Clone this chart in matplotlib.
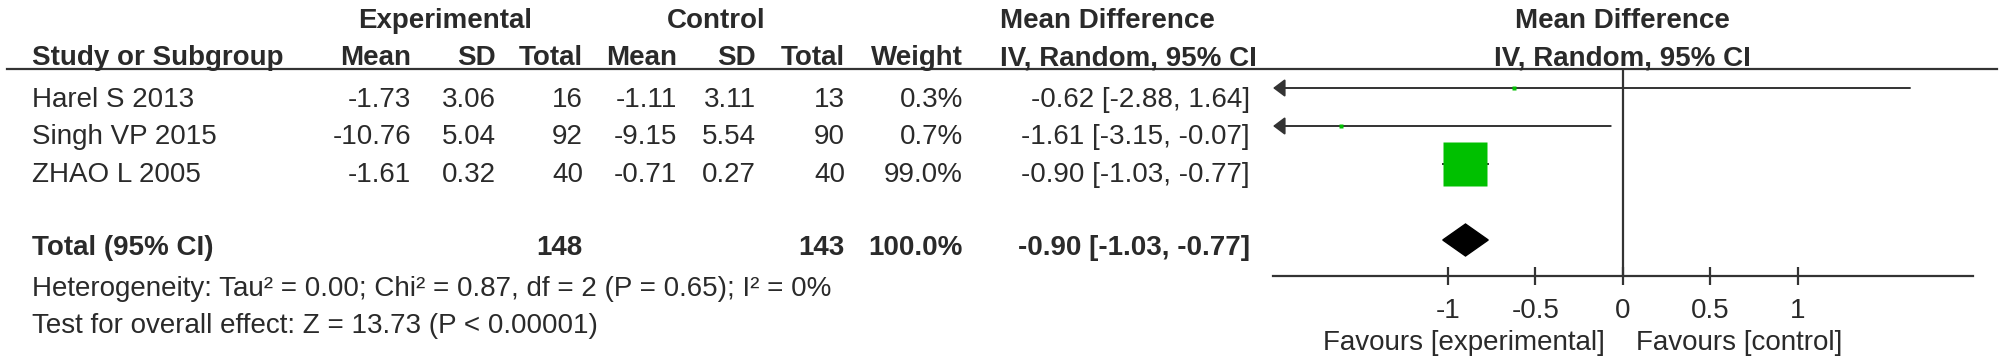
import numpy as np
import matplotlib
matplotlib.use("Agg")
import matplotlib.pyplot as plt
from matplotlib.patches import Polygon

plt.rcParams['font.family'] = ['Liberation Sans', 'DejaVu Sans']

# data
studies = ['Harel S 2013', 'Singh VP 2015', 'ZHAO L 2005']
exp_mean = ['-1.73', '-10.76', '-1.61']
exp_sd = ['3.06', '5.04', '0.32']
exp_n = [16, 92, 40]
ctl_mean = ['-1.11', '-9.15', '-0.71']
ctl_sd = ['3.11', '5.54', '0.27']
ctl_n = [13, 90, 40]
weight = [0.3, 0.7, 99.0]
md = [-0.62, -1.61, -0.90]
ci_lo = [-2.88, -3.15, -1.03]
ci_hi = [1.64, -0.07, -0.77]
tot_md, tot_lo, tot_hi = -0.90, -1.03, -0.77
tot_exp, tot_ctl = 148, 143
tick_vals = [-1, -0.5, 0, 0.5, 1]
tick_labels = ['-1', '-0.5', '0', '0.5', '1']

W, H = 2008, 363
txt = '#2a2a2a'
ln = '#333333'
green = '#00c000'
fs = 20

fig = plt.figure(figsize=(W / 100, H / 100), dpi=100)

# background axes in pixel units for the table part
bg = fig.add_axes([0, 0, 1, 1])
bg.set_xlim(0, W)
bg.set_ylim(H, 0)
bg.axis('off')

def t(x, y, s, ha='left', bold=False):
    bg.text(x, y, s, ha=ha, va='baseline', fontsize=fs, color=txt,
            fontweight='bold' if bold else 'normal')

# headers
t(445, 28, 'Experimental', 'center', True)
t(716, 28, 'Control', 'center', True)
t(1000, 28, 'Mean Difference', 'left', True)
t(1622, 28, 'Mean Difference', 'center', True)
hdr_y = 65
t(32, hdr_y, 'Study or Subgroup', 'left', True)
t(411, hdr_y, 'Mean', 'right', True)
t(496, hdr_y, 'SD', 'right', True)
t(583, hdr_y, 'Total', 'right', True)
t(677, hdr_y, 'Mean', 'right', True)
t(756, hdr_y, 'SD', 'right', True)
t(845, hdr_y, 'Total', 'right', True)
t(963, hdr_y, 'Weight', 'right', True)
t(1000, hdr_y, 'IV, Random, 95% CI', 'left', True)
t(1622, hdr_y, 'IV, Random, 95% CI', 'center', True)
bg.plot([7, 1997], [69, 69], color=ln, lw=1.6)

row_base = [107, 144.5, 182]
for i in range(len(studies)):
    y = row_base[i]
    t(32, y, studies[i])
    t(411, y, exp_mean[i], 'right')
    t(496, y, exp_sd[i], 'right')
    t(583, y, str(exp_n[i]), 'right')
    t(677, y, ctl_mean[i], 'right')
    t(756, y, ctl_sd[i], 'right')
    t(845, y, str(ctl_n[i]), 'right')
    t(963, y, f'{weight[i]:.1f}%', 'right')
    t(1250, y, f'{md[i]:.2f} [{ci_lo[i]:.2f}, {ci_hi[i]:.2f}]', 'right')

t(32, 255, 'Total (95% CI)', 'left', True)
t(583, 255, str(tot_exp), 'right', True)
t(845, 255, str(tot_ctl), 'right', True)
t(963, 255, f'{sum(weight):.1f}%', 'right', True)
t(1250, 255, f'{tot_md:.2f} [{tot_lo:.2f}, {tot_hi:.2f}]', 'right', True)
t(32, 296, 'Heterogeneity: Tau\u00b2 = 0.00; Chi\u00b2 = 0.87, df = 2 (P = 0.65); I\u00b2 = 0%')
t(32, 333, 'Test for overall effect: Z = 13.73 (P < 0.00001)')
t(1605, 350, 'Favours [experimental]', 'right')
t(1636, 350, 'Favours [control]', 'left')

# forest plot axes: x from -2 to 2, rows in units of 38 px
x0, x1 = 1273, 1973
ytop, ybot = 69, 276
ax = fig.add_axes([x0 / W, 1 - ybot / H, (x1 - x0) / W, (ybot - ytop) / H])
ax.set_xlim(-2, 2)
ax.set_ylim((ybot - 88) / 38, (ytop - 88) / 38)
ax.patch.set_alpha(0)
for s in ['top', 'left', 'right']:
    ax.spines[s].set_visible(False)
ax.spines['bottom'].set_color(ln)
ax.spines['bottom'].set_linewidth(1.6)
ax.set_yticks([])
ax.set_xticks(tick_vals)
ax.set_xticklabels(tick_labels)
ax.tick_params(axis='x', direction='inout', length=13, width=1.6, color=ln,
               labelsize=fs, labelcolor=txt, pad=9)
ax.axvline(0, color=ln, lw=1.6)

rows = [0, 1, 2]
for i, r in enumerate(rows):
    lo = max(ci_lo[i], -2)
    hi = min(ci_hi[i], 2)
    if ci_lo[i] < -2:
        ax.annotate('', xy=(lo, r), xytext=(hi, r),
                    arrowprops=dict(arrowstyle='-|>,head_length=0.36,head_width=0.27',
                                    mutation_scale=20, color=ln, lw=1.4,
                                    shrinkA=0, shrinkB=0))
    else:
        ax.plot([lo, hi], [r, r], color=ln, lw=1.4)
    size = max(31 * np.sqrt(weight[i] / max(weight)), 3)
    ax.plot(md[i], r, marker='s', ms=size, color=green, mec='none', zorder=3)

ry = 4
hh = 16 / 38
ax.add_patch(Polygon([[tot_lo, ry], [tot_md, ry - hh], [tot_hi, ry], [tot_md, ry + hh]],
                     closed=True, color='black'))

fig.savefig('out.png', dpi=100)
